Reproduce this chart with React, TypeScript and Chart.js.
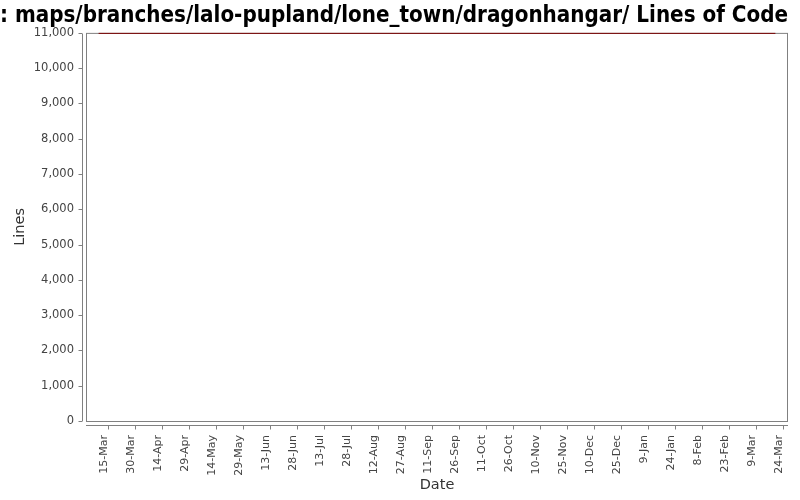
import React, { useEffect, useRef } from "react";
import { Chart, registerables } from "chart.js";
Chart.register(...registerables);

const TITLE = ": maps/branches/lalo-pupland/lone_town/dragonhangar/ Lines of Code";
const X_TITLE = "Date";
const Y_TITLE = "Lines";

// series: dates and lines of code
const pointDates = ["2011-03-10", "2012-03-20"];
const linesOfCode = [10986, 10986];

// axis range and tick positions
const xRange = ["2011-03-03", "2012-03-27"];
const tickDates = [
  "2011-03-15", "2011-03-30", "2011-04-14", "2011-04-29", "2011-05-14", "2011-05-29",
  "2011-06-13", "2011-06-28", "2011-07-13", "2011-07-28", "2011-08-12", "2011-08-27",
  "2011-09-11", "2011-09-26", "2011-10-11", "2011-10-26", "2011-11-10", "2011-11-25",
  "2011-12-10", "2011-12-25", "2012-01-09", "2012-01-24", "2012-02-08", "2012-02-23",
  "2012-03-09", "2012-03-24",
];
const yRange = [0, 11000];
const yStep = 1000;

const MONTHS = ["Jan", "Feb", "Mar", "Apr", "May", "Jun", "Jul", "Aug", "Sep", "Oct", "Nov", "Dec"];
const BASE = Date.parse(tickDates[0] + "T00:00:00Z");
const dayOf = (s: string) => Math.round((Date.parse(s + "T00:00:00Z") - BASE) / 86400000);
const fmt = (day: number) => {
  const d = new Date(BASE + day * 86400000);
  return d.getUTCDate() + "-" + MONTHS[d.getUTCMonth()];
};

const FONT = "'DejaVu Sans', sans-serif";

const framePlugin = {
  id: "frame",
  beforeDatasetsDraw(chart: any) {
    const { ctx, chartArea } = chart;
    const { left, right, top, bottom } = chartArea;
    ctx.save();
    ctx.strokeStyle = "#808080";
    ctx.lineWidth = 1;
    ctx.strokeRect(left + 0.5, top + 0.5, right - left - 1, bottom - top);
    // y axis line offset
    const ax = left - 3.5;
    ctx.beginPath();
    ctx.moveTo(ax, top + 1);
    ctx.lineTo(ax, bottom);
    const ys = chart.scales.y;
    ys.ticks.forEach((t: any) => {
      const py = Math.round(ys.getPixelForValue(t.value)) + 0.5;
      ctx.moveTo(ax - 4, py);
      ctx.lineTo(ax, py);
    });
    // x axis line offset
    const ay = bottom + 4.5;
    ctx.moveTo(left, ay);
    ctx.lineTo(right, ay);
    const xs = chart.scales.x;
    xs.ticks.forEach((t: any) => {
      const px = Math.round(xs.getPixelForValue(t.value)) + 0.5;
      ctx.moveTo(px, ay);
      ctx.lineTo(px, ay + 4);
    });
    ctx.stroke();
    ctx.restore();
  },
};

export default function App() {
  const ref = useRef<HTMLCanvasElement>(null);
  useEffect(() => {
    document.body.style.margin = "0";
    const canvas = ref.current!;
    const data = pointDates.map((d, i) => ({ x: dayOf(d), y: linesOfCode[i] }));
    const chart = new Chart(canvas, {
      type: "line",
      data: {
        datasets: [
          {
            data,
            borderColor: "#7a0000",
            borderWidth: 1,
            pointRadius: 0,
            fill: false,
            tension: 0,
            clip: false as any,
          },
        ],
      },
      options: {
        animation: false,
        responsive: false,
        devicePixelRatio: 1,
        layout: { padding: { left: 0, right: 12, top: 0, bottom: 0 } },
        plugins: {
          legend: { display: false },
          tooltip: { enabled: false },
          title: {
            display: true,
            text: TITLE,
            color: "#000",
            font: { family: "'DejaVu Sans Condensed', 'DejaVu Sans', sans-serif", size: 22.4, weight: "bold" },
            padding: { top: 3, bottom: 3 },
          },
        },
        scales: {
          x: {
            type: "linear",
            min: dayOf(xRange[0]),
            max: dayOf(xRange[1]),
            border: { display: false },
            grid: { display: false, drawTicks: false },
            afterBuildTicks(scale: any) {
              scale.ticks = tickDates.map((d) => ({ value: dayOf(d) }));
            },
            afterFit(scale: any) {
              scale.height = 79;
              scale.paddingLeft = 0;
              scale.paddingRight = 0;
            },
            ticks: {
              autoSkip: false,
              minRotation: 90,
              maxRotation: 90,
              padding: 14,
              labelOffset: -3,
              color: "#444",
              font: { family: FONT, size: 11 },
              callback: (v: any) => fmt(Number(v)),
            },
            title: {
              display: true,
              text: X_TITLE,
              color: "#333",
              font: { family: FONT, size: 14.5 },
              padding: { top: 0, bottom: 6 },
            },
          },
          y: {
            type: "linear",
            min: yRange[0],
            max: yRange[1],
            border: { display: false },
            grid: { display: false, drawTicks: false },
            afterFit(scale: any) {
              scale.width = 86;
              scale.paddingTop = 0;
              scale.paddingBottom = 0;
            },
            ticks: {
              stepSize: yStep,
              padding: 12,
              color: "#444",
              font: { family: FONT, size: 11.5 },
              callback: (v: any) => Number(v).toLocaleString("en-US"),
            },
            title: {
              display: true,
              text: Y_TITLE,
              color: "#333",
              font: { family: FONT, size: 14.5 },
              padding: { top: 12, bottom: 0 },
            },
          },
        },
      },
      plugins: [framePlugin],
    } as any);
    return () => chart.destroy();
  }, []);
  return (
    <div style={{ position: "fixed", left: 0, top: 0, width: 800, height: 500, background: "#fff" }}>
      <canvas ref={ref} width={800} height={500} style={{ display: "block", width: 800, height: 500 }} />
    </div>
  );
}
